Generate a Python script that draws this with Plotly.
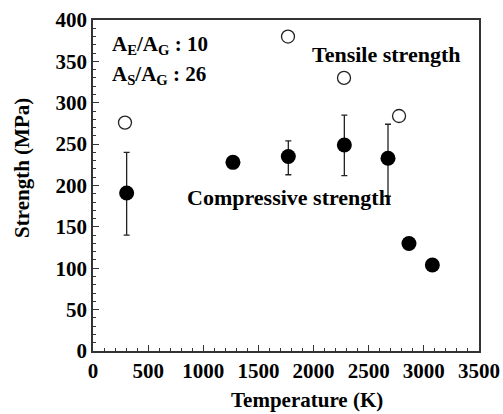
import plotly.graph_objects as go

# Tensile strength (open circles)
tens_T = [290, 1768, 2276, 2775]
tens_S = [276, 380, 330, 284]

# Compressive strength (filled circles) with error bars
comp_T = [305, 1269, 1771, 2279, 2675, 2865, 3077]
comp_S = [191, 228, 235, 249, 233, 130, 104]
comp_err_plus = [49, 0, 19, 36, 41, 0, 0]
comp_err_minus = [51, 0, 22, 37, 46, 0, 0]

x_ticks = [0, 500, 1000, 1500, 2000, 2500, 3000, 3500]
y_ticks = [0, 50, 100, 150, 200, 250, 300, 350, 400]

FONT = "Times New Roman, Liberation Serif, serif"

fig = go.Figure()
fig.add_trace(go.Scatter(
    x=comp_T, y=comp_S, mode="markers",
    marker=dict(symbol="circle", size=15, color="black"),
    error_y=dict(type="data", symmetric=False, array=comp_err_plus,
                 arrayminus=comp_err_minus, color="#222", thickness=1.3, width=3),
    showlegend=False,
))
fig.add_trace(go.Scatter(
    x=tens_T, y=tens_S, mode="markers",
    marker=dict(symbol="circle-open", size=13, color="#222", line=dict(width=1.3)),
    showlegend=False,
))

tickfont = dict(family=FONT, size=21, color="black", weight="bold")
titlefont = dict(family=FONT, size=21, color="black", weight="bold")
axis_common = dict(
    showline=True, linecolor="#333", linewidth=1.5, mirror=True,
    ticks="inside", ticklen=6, tickwidth=1.2, tickcolor="#333",
    showgrid=False, zeroline=False, tickfont=tickfont, automargin=False,
)

fig.update_xaxes(
    range=[0, 3500], tickvals=x_ticks, ticktext=[f"<b>{v}</b>" for v in x_ticks],
    minor=dict(dtick=100, ticks="inside", ticklen=3, tickcolor="#333", tickwidth=1),
    **axis_common,
)
fig.update_yaxes(
    range=[0, 400], tickvals=y_ticks, ticktext=[f"<b>{v}</b>" for v in y_ticks],
    minor=dict(dtick=10, ticks="inside", ticklen=3, tickcolor="#333", tickwidth=1),
    **axis_common,
)

# axis titles (placed as annotations to match the reference offsets)
fig.add_annotation(x=0.554, y=-0.148, xref="paper", yref="paper", xanchor="center", yanchor="middle",
                   text="Temperature (K)", showarrow=False, font=titlefont)
fig.add_annotation(x=-0.184, y=0.553, xref="paper", yref="paper", xanchor="center", yanchor="middle",
                   text="Strength (MPa)", textangle=-90, showarrow=False, font=titlefont)

ann_font = dict(family=FONT, size=21, color="black", weight="bold")
big_font = dict(family=FONT, size=22, color="black", weight="bold")
fig.add_annotation(x=154, y=370, xref="x", yref="y", xanchor="left", yanchor="middle",
                   text="A<sub>E</sub>/A<sub>G</sub> : 10", showarrow=False, font=ann_font)
fig.add_annotation(x=154, y=333, xref="x", yref="y", xanchor="left", yanchor="middle",
                   text="A<sub>S</sub>/A<sub>G</sub> : 26", showarrow=False, font=ann_font)
fig.add_annotation(x=1968, y=358, xref="x", yref="y", xanchor="left", yanchor="middle",
                   text="Tensile strength", showarrow=False, font=big_font)
fig.add_annotation(x=834, y=186, xref="x", yref="y", xanchor="left", yanchor="middle",
                   text="Compressive strength", showarrow=False, font=big_font)

fig.update_layout(
    width=503, height=414, autosize=False,
    margin=dict(l=93, r=24, t=20, b=63),
    plot_bgcolor="white", paper_bgcolor="white",
    font=dict(family=FONT, color="black", weight="bold"),
)

fig.write_html("out.html")
